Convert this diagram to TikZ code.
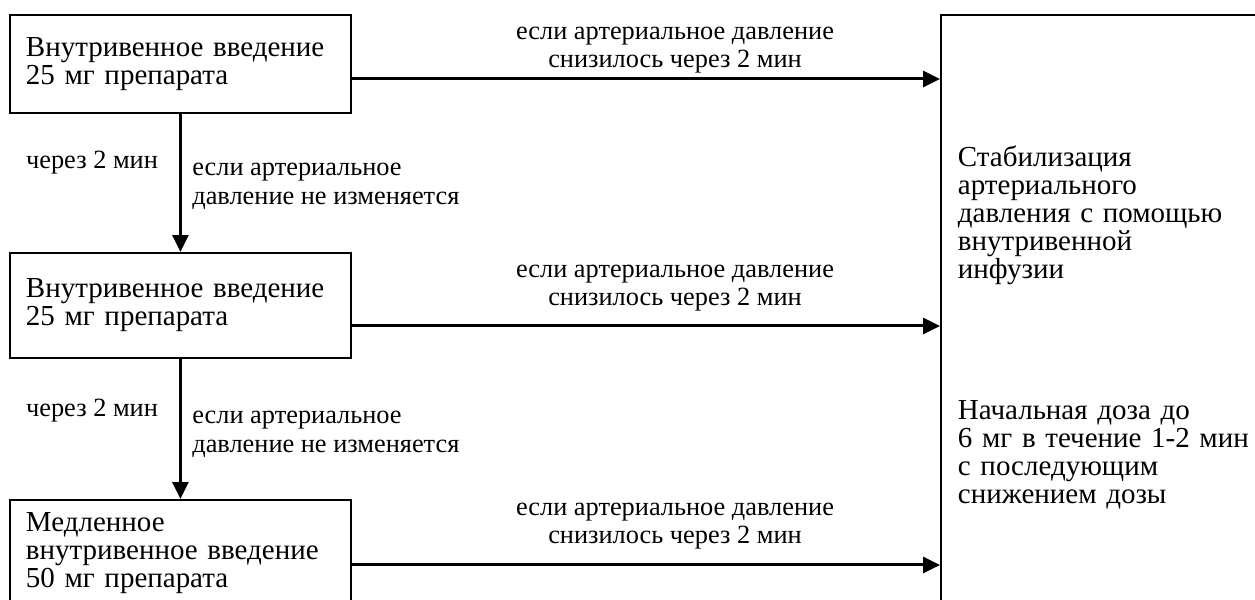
\documentclass[tikz,border=0pt]{standalone}
\usepackage{fontspec}
\setmainfont{Liberation Serif}
\usetikzlibrary{arrows.meta,positioning}
\tikzset{
  stepbox/.style={draw,line width=1.1pt,anchor=north west,inner xsep=0.32cm,
    align=left,text width=6.18cm,font=\fontsize{16.5}{15.9}\selectfont},
  flow/.style={line width=1.7pt,-{Triangle[length=0.34cm,width=0.32cm]}},
  note/.style={font=\fontsize{15}{16.4}\selectfont,align=center,inner sep=0pt},
  waitnote/.style={note,align=left,anchor=west}
}

\begin{document}
\begin{tikzpicture}[x=0.02cm,y=-0.02cm]
  \clip (0,0) rectangle (1255,599);
  % steps of the scheme
  \node[stepbox,minimum height=1.96cm] (dose1) at (9,14)
    {Внутривенное введение\\25 мг препарата};
  \node[stepbox,minimum height=2.1cm] (dose2) at (9,252)
    {Внутривенное введение\\25 мг препарата};
  \node[stepbox,minimum height=2.12cm] (dose3) at (9,499)
    {Медленное\\внутривенное введение\\50 мг препарата};
  \node[draw,line width=1.1pt,anchor=north west,minimum width=6.9cm,
    minimum height=12.5cm,text width=6.3cm,inner xsep=0.34cm,align=left,
    font=\fontsize{16.5}{15.9}\selectfont] (stab) at (940,14)
    {Стабилизация\\артериального\\давления с помощью\\внутривенной\\инфузии\\[2.26cm]
     Начальная доза до\\6 мг в течение 1-2 мин\\с последующим\\снижением дозы};
  % arrows to the right box
  \coordinate (out1) at ([yshift=-0.3cm]dose1.east);
  \coordinate (out2) at ([yshift=-0.41cm]dose2.east);
  \coordinate (out3) at ([yshift=-0.24cm]dose3.east);
  \foreach \o in {out1,out2,out3} {\draw[flow] (\o) -- (\o -| stab.west);}
  \draw[flow] (dose1.south) -- (dose2.north);
  \draw[flow] (dose2.south) -- (dose3.north);
  % labels
  \foreach \y in {50,288,526}
    {\node[note] at (675,\y) {если артериальное давление\\снизилось через 2 мин};}
  \node[note] (wait1) at (92,163) {через 2 мин};
  \node[note] (wait2) at (92,411) {через 2 мин};
  \node[waitnote] (same1) at (192,186) {если артериальное\\давление не изменяется};
  \node[waitnote] (same2) at (192,434) {если артериальное\\давление не изменяется};
\end{tikzpicture}
\end{document}
